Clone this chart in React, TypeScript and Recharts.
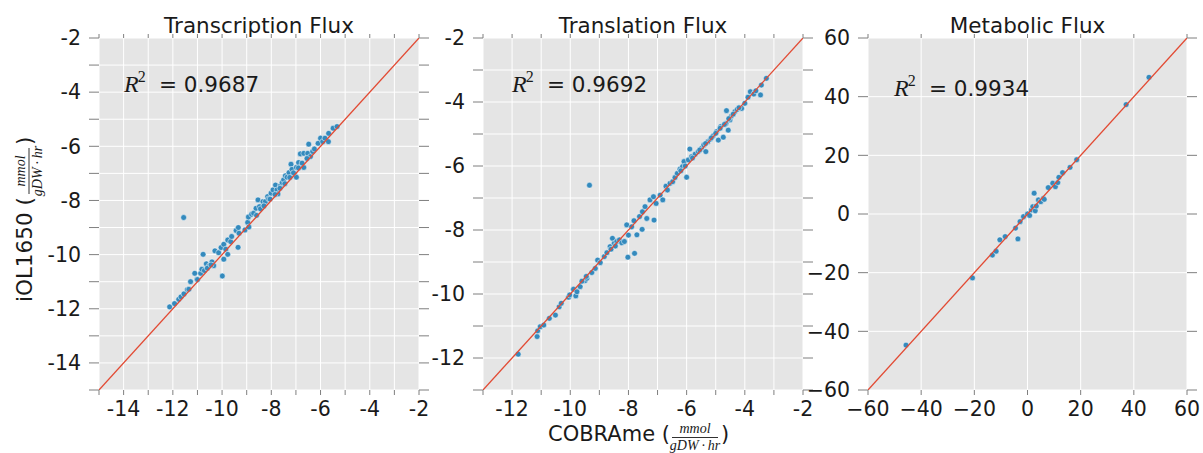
import React from 'react';
import { ScatterChart, Scatter, XAxis, YAxis, CartesianGrid } from 'recharts';

const FONT = 'DejaVu Sans, sans-serif';
const MATH = 'Liberation Serif, DejaVu Serif, serif';
const INK = '#1a1a1a';
const TICK = '#7f7f7f';

// Transcription flux, log scale: COBRAme (x) vs iOL1650 (y)
const transcriptionCobrame = [
  -12.13, -11.93, -11.76, -11.67, -11.55, -11.56, -11.41, -11.28, -11.11, -11.02, -10.87, -10.77,
  -10.82, -10.72, -10.64, -10.52, -10.41, -10.34, -10.29, -10.14, -10.04, -9.99, -9.93, -9.93,
  -9.85, -9.77, -9.77, -9.65, -9.61, -9.43, -9.35, -9.34, -9.31, -9.07, -8.96, -8.93, -8.91,
  -8.8, -8.72, -8.62, -8.54, -8.48, -8.44, -8.34, -8.24, -8.15, -8.11, -8.01, -7.93, -7.83,
  -7.77, -7.73, -7.63, -7.56, -7.5, -7.43, -7.36, -7.28, -7.2, -7.16, -7.06, -6.98, -6.98,
  -6.89, -6.82, -6.79, -6.68, -6.68, -6.52, -6.48, -6.41, -6.32, -6.25, -6.1, -6.0, -5.91,
  -5.82, -5.68, -5.67, -5.49, -5.33,
  -8.6, -8.3, -8.05, -7.85, -7.65, -7.45, -7.25, -7.1, -6.9, -6.75, -6.55, -11.0, -10.6, -10.45, -11.35,
];
const transcriptionIol = [
  -11.93, -11.81, -11.65, -11.56, -11.45, -8.63, -11.29, -11.0, -10.69, -10.91, -10.69, -9.99,
  -10.54, -10.59, -10.34, -10.41, -10.27, -10.41, -9.86, -9.93, -9.74, -10.79, -9.62, -10.17,
  -9.8, -9.99, -9.46, -9.52, -9.33, -9.11, -9.73, -9.0, -9.21, -9.09, -8.81, -8.61, -8.98,
  -8.51, -8.47, -8.29, -7.98, -8.23, -8.31, -8.04, -8.04, -7.86, -7.94, -7.73, -7.61, -7.43,
  -7.61, -7.76, -7.46, -7.34, -7.24, -7.09, -7.14, -6.97, -6.66, -6.85, -7.02, -7.14, -6.78,
  -6.6, -6.28, -6.75, -6.26, -6.78, -6.26, -5.92, -6.38, -6.19, -6.1, -5.89, -5.7, -5.83,
  -5.7, -5.83, -5.52, -5.33, -5.27,
  -8.55, -8.2, -7.95, -7.78, -7.55, -7.38, -7.15, -6.98, -6.8, -6.62, -6.45, -10.92, -10.5, -10.38, -11.28,
];

// Translation flux
const translationCobrame = [
  -11.79, -11.14, -11.12, -11.03, -10.91, -10.72, -10.51, -10.38, -10.31, -10.06, -10.02, -9.89,
  -9.81, -9.77, -9.66, -9.49, -9.43, -9.34, -9.26, -9.14, -9.06, -8.97, -8.83, -8.74, -8.63,
  -8.55, -8.49, -8.4, -8.31, -8.23, -8.14, -8.06, -8.02, -8.0, -7.89, -7.79, -7.81, -7.71,
  -7.62, -7.53, -7.52, -7.43, -7.37, -7.26, -7.14, -7.12, -7.05, -6.91, -6.82, -6.71, -6.66,
  -6.57, -6.48, -6.4, -6.32, -6.23, -6.14, -6.0, -6.09, -5.94, -5.89, -5.83, -5.71, -5.6,
  -5.49, -5.41, -5.34, -5.27, -5.18, -5.09, -4.97, -4.91, -4.83, -4.74, -4.65, -4.63, -4.57,
  -4.51, -4.46, -4.34, -4.26, -4.11, -4.0, -3.89, -3.81, -3.69, -3.62, -3.46, -3.43, -3.26,
  -5.8, -5.55, -5.35, -5.15, -5.0, -4.85, -4.7, -4.55, -4.4, -4.2, -6.2, -6.05, -8.6, -8.45, -9.6, -9.45,
];
const translationIol = [
  -11.88, -11.33, -11.15, -11.02, -10.97, -10.76, -10.66, -10.4, -10.29, -10.1, -10.03, -9.85,
  -10.06, -9.93, -9.77, -9.58, -9.51, -6.6, -9.33, -9.2, -8.94, -9.02, -8.83, -8.71, -8.52,
  -8.26, -8.42, -8.36, -8.31, -8.4, -8.36, -7.84, -8.85, -8.16, -7.9, -8.73, -7.71, -8.15,
  -7.58, -7.98, -7.43, -7.27, -7.64, -7.06, -6.96, -7.69, -7.17, -6.91, -7.06, -6.63, -6.75,
  -6.54, -6.49, -6.36, -6.23, -6.1, -6.02, -6.35, -5.86, -5.81, -5.47, -5.71, -5.63, -5.55,
  -5.45, -5.34, -5.55, -5.24, -5.16, -5.06, -4.93, -5.19, -4.77, -5.1, -4.67, -4.27, -4.88,
  -4.56, -4.44, -4.3, -4.23, -4.2, -4.04, -3.85, -3.68, -3.75, -3.65, -3.78, -3.47, -3.26,
  -5.75, -5.5, -5.3, -5.12, -4.98, -4.82, -4.7, -4.52, -4.38, -4.18, -6.15, -6.0, -8.6, -8.5, -9.6, -9.45,
];

// Metabolic flux
const metabolicCobrame = [
  -45.7, -20.7, -13.2, -11.8, -10.4, -8.4, -4.5, -3.6, -2.8, -1.5, 0, 0.8, 1.5, 2.0, 2.5, 2.9,
  3.3, 4.1, 5.0, 6.0, 6.3, 7.8, 9.5, 10.5, 11.4, 11.8, 13.2, 16.0, 18.5, 37.1, 45.7,
];
const metabolicIol = [
  -44.7, -21.8, -14.0, -12.7, -8.8, -7.7, -4.8, -8.5, -2.6, -0.9, 0, -0.5, 1.4, 2.5, 7.1, 1.1,
  2.7, 4.8, 4.2, 5.3, 5.0, 9.0, 10.5, 9.3, 10.7, 12.5, 14.1, 15.9, 18.5, 37.3, 46.6,
];

const transcriptionTicks = [-15, -14, -13, -12, -11, -10, -9, -8, -7, -6, -5, -4, -3, -2];
const translationTicks = [-13, -12, -11, -10, -9, -8, -7, -6, -5, -4, -3, -2];
const metabolicTicks = [-60, -40, -20, 0, 20, 40, 60];

const titles = ['Transcription Flux', 'Translation Flux', 'Metabolic Flux'];
const rSquared = ['0.9687', '0.9692', '0.9934'];

const evenOnly = (v: number) => (v % 2 === 0 ? String(v) : '');
const withMinus = (v: number) => String(v).replace('-', '\u2212');
const blank = () => '';

const Dot = (props: any) => (
  <circle cx={props.cx} cy={props.cy} r={2.9} fill="#348ABD" stroke="#fff" strokeWidth={0.5} />
);
const NoDot = () => <g />;

type PanelProps = {
  left: number;
  width: number;
  marginLeft: number;
  marginRight: number;
  xs: number[];
  ys: number[];
  domain: [number, number];
  ticks: number[];
  fmt: (v: number) => string;
};

function Panel({ left, width, marginLeft, marginRight, xs, ys, domain, ticks, fmt }: PanelProps) {
  const data = xs.map((x, i) => ({ x, y: ys[i] }));
  const diagonal = [
    { x: domain[0], y: domain[0] },
    { x: domain[1], y: domain[1] },
  ];
  const tickStyle = { fill: INK, fontSize: 20.5, fontFamily: FONT };
  return (
    <div style={{ position: 'absolute', left, top: 0 }}>
      <ScatterChart
        width={width}
        height={453}
        margin={{ top: 28, right: marginRight, bottom: 33, left: marginLeft }}
      >
        <CartesianGrid xAxisId="b" yAxisId="l" fill="#e5e5e5" stroke="#ffffff" strokeWidth={1} />
        <XAxis
          xAxisId="b"
          dataKey="x"
          type="number"
          domain={domain}
          ticks={ticks}
          interval={0}
          tickFormatter={fmt}
          height={30}
          tickSize={5}
          tickMargin={6}
          axisLine={false}
          tickLine={{ stroke: TICK }}
          tick={tickStyle}
          allowDataOverflow
        />
        <XAxis
          xAxisId="t"
          orientation="top"
          dataKey="x"
          type="number"
          domain={domain}
          ticks={ticks}
          interval={0}
          tickFormatter={blank}
          height={10}
          tickSize={4}
          axisLine={false}
          tickLine={{ stroke: TICK }}
          allowDataOverflow
        />
        <YAxis
          yAxisId="l"
          dataKey="y"
          type="number"
          domain={domain}
          ticks={ticks}
          interval={0}
          tickFormatter={fmt}
          width={60}
          tickSize={10}
          tickMargin={8}
          axisLine={false}
          tickLine={{ stroke: TICK }}
          tick={tickStyle}
          allowDataOverflow
        />
        <YAxis
          yAxisId="r"
          orientation="right"
          dataKey="y"
          type="number"
          domain={domain}
          ticks={ticks}
          interval={0}
          tickFormatter={blank}
          width={15}
          tickSize={10}
          axisLine={false}
          tickLine={{ stroke: TICK }}
          allowDataOverflow
        />
        <Scatter xAxisId="b" yAxisId="l" data={data} shape={Dot} isAnimationActive={false} />
        <Scatter
          xAxisId="t"
          yAxisId="r"
          data={diagonal}
          shape={NoDot}
          line={{ stroke: '#E24A33', strokeWidth: 1.3 }}
          isAnimationActive={false}
        />
      </ScatterChart>
    </div>
  );
}

function RSquared({ x, y, value }: { x: number; y: number; value: string }) {
  return (
    <text x={x} y={y} fill={INK}>
      <tspan fontFamily={MATH} fontStyle="italic" fontSize={24}>R</tspan>
      <tspan fontFamily={MATH} fontSize={16} dy={-10} dx={-1}>2</tspan>
      <tspan x={x + 35} dy={10} fontFamily={FONT} fontSize={21.5}>= {value}</tspan>
    </text>
  );
}

function Units({ x }: { x: number }) {
  // small stacked mmol / gDW·hr fraction, baseline at y=0
  return (
    <g>
      <text x={x + 23} y={-7.5} textAnchor="middle" fontFamily={MATH} fontStyle="italic" fontSize={14} fill={INK}>
        mmol
      </text>
      <line x1={x} x2={x + 46} y1={-3} y2={-3} stroke={INK} strokeWidth={0.9} />
      <text x={x + 23} y={9.5} textAnchor="middle" fontFamily={MATH} fontStyle="italic" fontSize={14} fill={INK}>
        gDW{'\u2009·\u2009'}hr
      </text>
    </g>
  );
}

export default function App() {
  return (
    <div style={{ position: 'absolute', left: 0, top: 0, width: 1203, height: 453, background: '#fff' }}>
      <Panel
        left={0}
        width={440}
        marginLeft={39}
        marginRight={6}
        xs={transcriptionCobrame}
        ys={transcriptionIol}
        domain={[-15, -2]}
        ticks={transcriptionTicks}
        fmt={evenOnly}
      />
      <Panel
        left={420}
        width={400}
        marginLeft={3}
        marginRight={2}
        xs={translationCobrame}
        ys={translationIol}
        domain={[-13, -2]}
        ticks={translationTicks}
        fmt={evenOnly}
      />
      <Panel
        left={800}
        width={403}
        marginLeft={8}
        marginRight={1}
        xs={metabolicCobrame}
        ys={metabolicIol}
        domain={[-60, 60]}
        ticks={metabolicTicks}
        fmt={withMinus}
      />
      <svg
        width={1203}
        height={453}
        style={{ position: 'absolute', left: 0, top: 0, pointerEvents: 'none' }}
      >
        <g fontFamily={FONT} fontSize={21.5} fill={INK} textAnchor="middle">
          <text x={259} y={33}>{titles[0]}</text>
          <text x={643} y={33}>{titles[1]}</text>
          <text x={1027.5} y={33}>{titles[2]}</text>
        </g>
        <RSquared x={124} y={92} value={rSquared[0]} />
        <RSquared x={512} y={92} value={rSquared[1]} />
        <RSquared x={894} y={96} value={rSquared[2]} />
        <g transform="translate(32,302) rotate(-90)">
          <text x={0} y={0} fontFamily={FONT} fontSize={21.5} fill={INK}>iOL1650 (</text>
          <Units x={108} />
          <text x={157} y={0} fontFamily={FONT} fontSize={21.5} fill={INK}>)</text>
        </g>
        <g transform="translate(548,440.5)">
          <text x={0} y={0} fontFamily={FONT} fontSize={21} fill={INK}>COBRAme (</text>
          <Units x={124} />
          <text x={173} y={0} fontFamily={FONT} fontSize={21} fill={INK}>)</text>
        </g>
      </svg>
    </div>
  );
}
